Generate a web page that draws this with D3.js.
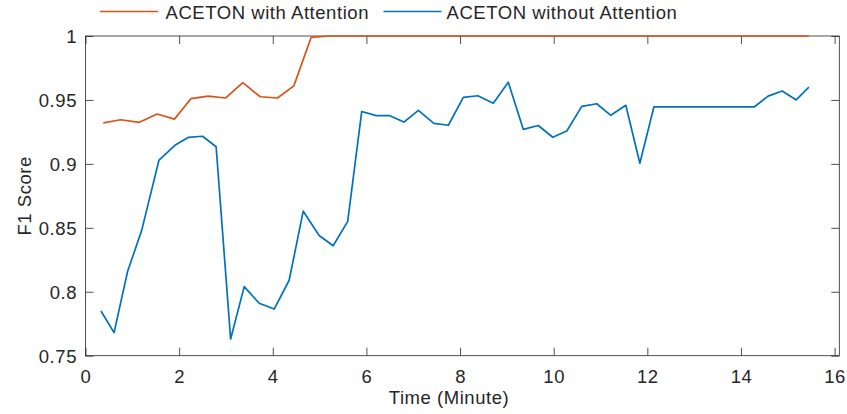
<!DOCTYPE html>
<html>
<head>
<meta charset="utf-8">
<script src="https://cdn.jsdelivr.net/npm/d3@7"></script>
<style>
  html, body { margin: 0; padding: 0; background: #fff; }
  svg text { font-family: "Liberation Sans", Arial, Helvetica, sans-serif; fill: #262626; }
</style>
</head>
<body>
<svg id="chart" width="847" height="414"></svg>
<script>
// F1 score over time, with and without the attention module
const withTime = [0.38, 0.75, 1.15, 1.53, 1.90, 2.25, 2.62, 2.99, 3.36, 3.73, 4.10, 4.45, 4.82,
  5.20, 5.57, 5.94, 6.31, 6.68, 7.05, 7.42, 7.79, 8.16, 8.53, 8.90, 9.27, 9.64, 10.01, 10.38,
  10.75, 11.12, 11.49, 11.86, 12.23, 12.60, 12.97, 13.34, 13.71, 14.08, 14.45, 14.82, 15.19, 15.45];
const withF1 = [0.932, 0.9345, 0.9325, 0.939, 0.935, 0.951, 0.953, 0.9515, 0.9635, 0.9525, 0.9515, 0.961, 0.999,
  1, 1, 1, 1, 1, 1, 1, 1, 1, 1, 1, 1, 1, 1, 1,
  1, 1, 1, 1, 1, 1, 1, 1, 1, 1, 1, 1, 1, 1];

const withoutTime = [0.33, 0.61, 0.90, 1.20, 1.57, 1.91, 2.20, 2.50, 2.79, 3.10, 3.39, 3.71, 4.03, 4.35,
  4.65, 4.99, 5.29, 5.60, 5.90, 6.21, 6.50, 6.80, 7.11, 7.44, 7.75, 8.07, 8.38, 8.71, 9.03, 9.35,
  9.67, 9.98, 10.28, 10.60, 10.92, 11.22, 11.54, 11.84, 12.14, 12.45, 12.75, 13.06, 13.36, 13.67,
  13.97, 14.28, 14.58, 14.88, 15.18, 15.45];
const withoutF1 = [0.785, 0.768, 0.816, 0.848, 0.903, 0.9145, 0.9208, 0.9216, 0.9134, 0.763, 0.804, 0.791, 0.7865, 0.809,
  0.863, 0.844, 0.836, 0.855, 0.941, 0.9377, 0.9377, 0.9327, 0.9419, 0.9317, 0.9302, 0.952, 0.9533, 0.9474, 0.9638, 0.927,
  0.930, 0.9208, 0.9257, 0.945, 0.947, 0.938, 0.9458, 0.9005, 0.9445, 0.9445, 0.9445, 0.9445, 0.9445, 0.9445,
  0.9445, 0.9445, 0.953, 0.957, 0.950, 0.960];

const seriesNames = ["ACETON with Attention", "ACETON without Attention"];
const seriesColors = ["#D95319", "#0072BD"];
const xTicks = [0, 2, 4, 6, 8, 10, 12, 14, 16];
const yTicks = [0.75, 0.8, 0.85, 0.9, 0.95, 1];
const xTitle = "Time (Minute)";
const yTitle = "F1 Score";

const svg = d3.select("#chart");
const plotLeft = 85.5, plotRight = 839.3, plotTop = 36, plotBottom = 355.7;

const x = d3.scaleLinear().domain([0, 16.1]).range([plotLeft, plotRight]);
const y = d3.scaleLinear().domain([0.75, 1]).range([plotBottom, plotTop]);

const fontSize = "18.5px";
const spacing = "0.55px";
const axisColor = "#262626";
const tickLen = 8;

// frame
svg.append("rect")
  .attr("x", plotLeft).attr("y", plotTop)
  .attr("width", plotRight - plotLeft).attr("height", plotBottom - plotTop)
  .attr("fill", "none").attr("stroke", axisColor).attr("stroke-width", 0.8);

// x ticks (bottom and top, pointing inward)
const xAxisBottom = d3.axisBottom(x).tickValues(xTicks).tickSizeInner(-tickLen).tickSizeOuter(0)
  .tickPadding(14).tickFormat(d3.format("d"));
const gxb = svg.append("g").attr("transform", `translate(0,${plotBottom})`).call(xAxisBottom);
const xAxisTop = d3.axisTop(x).tickValues(xTicks).tickSizeInner(-tickLen).tickSizeOuter(0).tickFormat("");
const gxt = svg.append("g").attr("transform", `translate(0,${plotTop})`).call(xAxisTop);

// y ticks (left and right, pointing inward)
const yAxisLeft = d3.axisLeft(y).tickValues(yTicks).tickSizeInner(-tickLen).tickSizeOuter(0)
  .tickPadding(8.5).tickFormat(d => String(+d.toFixed(2)));
const gyl = svg.append("g").attr("transform", `translate(${plotLeft},0)`).call(yAxisLeft);
const yAxisRight = d3.axisRight(y).tickValues(yTicks).tickSizeInner(-tickLen).tickSizeOuter(0).tickFormat("");
const gyr = svg.append("g").attr("transform", `translate(${plotRight},0)`).call(yAxisRight);

[gxb, gxt, gyl, gyr].forEach(g => {
  g.select(".domain").remove();
  g.selectAll(".tick line").attr("stroke", axisColor).attr("stroke-width", 0.8);
  g.selectAll(".tick text")
    .attr("fill", axisColor)
    .style("font-family", '"Liberation Sans", Arial, Helvetica, sans-serif')
    .style("font-size", fontSize)
    .style("letter-spacing", spacing);
});
gxb.selectAll(".tick text").attr("dy", "0.71em").attr("y", 14);
gyl.selectAll(".tick text").attr("dy", "0.36em");

// axis titles
svg.append("text")
  .attr("x", 449).attr("y", 404)
  .attr("text-anchor", "middle")
  .style("font-size", fontSize).style("letter-spacing", spacing)
  .text(xTitle);
svg.append("text")
  .attr("transform", `translate(31,${(plotTop + plotBottom) / 2}) rotate(-90)`)
  .attr("text-anchor", "middle")
  .style("font-size", fontSize).style("letter-spacing", spacing)
  .text(yTitle);

// lines
const line = d3.line().x(d => x(d[0])).y(d => y(d[1]));
const series = [
  d3.zip(withTime, withF1),
  d3.zip(withoutTime, withoutF1)
];
series.forEach((pts, i) => {
  svg.append("path")
    .datum(pts)
    .attr("fill", "none")
    .attr("stroke", seriesColors[i])
    .attr("stroke-width", 1.7)
    .attr("stroke-linejoin", "round")
    .attr("d", line);
});

// legend above the plot
const legendItems = [
  { x1: 100, x2: 158, tx: 165.5 },
  { x1: 383.5, x2: 441.5, tx: 446.5 }
];
legendItems.forEach((it, i) => {
  svg.append("line")
    .attr("x1", it.x1).attr("x2", it.x2)
    .attr("y1", 11.5).attr("y2", 11.5)
    .attr("stroke", seriesColors[i]).attr("stroke-width", 1.7);
  svg.append("text")
    .attr("x", it.tx).attr("y", 18.5)
    .style("font-size", fontSize).style("letter-spacing", spacing)
    .text(seriesNames[i]);
});
</script>
</body>
</html>
